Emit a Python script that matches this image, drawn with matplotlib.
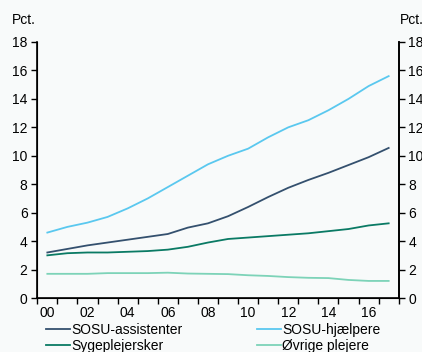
import matplotlib.pyplot as plt
from matplotlib.ticker import FixedLocator

plt.rcParams['font.family'] = ['Liberation Sans', 'DejaVu Sans']

# --- data ---
years = list(range(2000, 2018))
sosu_assistenter = [3.2, 3.45, 3.7, 3.9, 4.1, 4.3, 4.5, 4.95, 5.25, 5.75,
                    6.4, 7.1, 7.75, 8.3, 8.8, 9.35, 9.9, 10.55]
sosu_hjaelpere = [4.6, 5.0, 5.3, 5.7, 6.3, 7.0, 7.8, 8.6, 9.4, 10.0,
                  10.5, 11.3, 12.0, 12.5, 13.2, 14.0, 14.9, 15.6]
sygeplejersker = [3.0, 3.15, 3.2, 3.2, 3.25, 3.3, 3.4, 3.6, 3.9, 4.15,
                  4.25, 4.35, 4.45, 4.55, 4.7, 4.85, 5.1, 5.25]
oevrige = [1.7, 1.7, 1.7, 1.75, 1.75, 1.75, 1.78, 1.72, 1.7, 1.68,
           1.6, 1.55, 1.47, 1.42, 1.4, 1.27, 1.2, 1.2]
xlabels = ['00', '02', '04', '06', '08', '10', '12', '14', '16']

bg = '#f8fafa'
fig = plt.figure(figsize=(4.22, 3.52), dpi=100, facecolor=bg)
ax = fig.add_axes([0.0884, 0.1534, 0.8564, 0.7273], facecolor=bg)

l1, = ax.plot(years, sosu_assistenter, color='#34506e', lw=1.3, label='SOSU-assistenter')
l2, = ax.plot(years, sosu_hjaelpere, color='#5ac8ef', lw=1.3, label='SOSU-hjælpere')
l3, = ax.plot(years, sygeplejersker, color='#0a7a64', lw=1.3, label='Sygeplejersker')
l4, = ax.plot(years, oevrige, color='#7dd3b8', lw=1.3, label='Øvrige plejere')

ax.set_xlim(1999.5, 2017.5)
ax.set_ylim(0, 18)
ax.set_yticks(range(0, 19, 2))
ax.xaxis.set_major_locator(FixedLocator([1999.5 + k for k in range(19)]))
ax.xaxis.set_major_formatter(plt.NullFormatter())
ax.xaxis.set_minor_locator(FixedLocator(years[::2]))
ax.set_xticklabels(xlabels, minor=True)
ax.tick_params(axis='x', which='major', direction='out', length=4, width=1, color='black')
ax.tick_params(axis='x', which='minor', length=0, pad=6, labelsize=10)
ax.tick_params(axis='y', direction='out', length=4, width=1, pad=3, labelsize=10)
ax.spines['top'].set_visible(False)
for s in ['left', 'right', 'bottom']:
    ax.spines[s].set_linewidth(1.2)

ax2 = ax.twinx()
ax2.set_ylim(0, 18)
ax2.set_yticks(range(0, 19, 2))
ax2.tick_params(axis='y', direction='out', length=4, width=1, pad=3, labelsize=10)
ax2.spines['top'].set_visible(False)
ax2.spines['right'].set_linewidth(1.2)

fig.text(12 / 422, 1 - 20 / 352, 'Pct.', fontsize=10, va='center', ha='left')
fig.text(400 / 422, 1 - 20 / 352, 'Pct.', fontsize=10, va='center', ha='left')

fig.legend(handles=[l1, l3, l2, l4], ncol=2, loc='upper left',
           bbox_to_anchor=(46 / 422, 1 - 323 / 352), frameon=False,
           fontsize=10, handlelength=1.7, handletextpad=0.1,
           columnspacing=5.4, labelspacing=0.15, borderpad=0, borderaxespad=0)

fig.savefig('out.png', dpi=100, facecolor=bg)
